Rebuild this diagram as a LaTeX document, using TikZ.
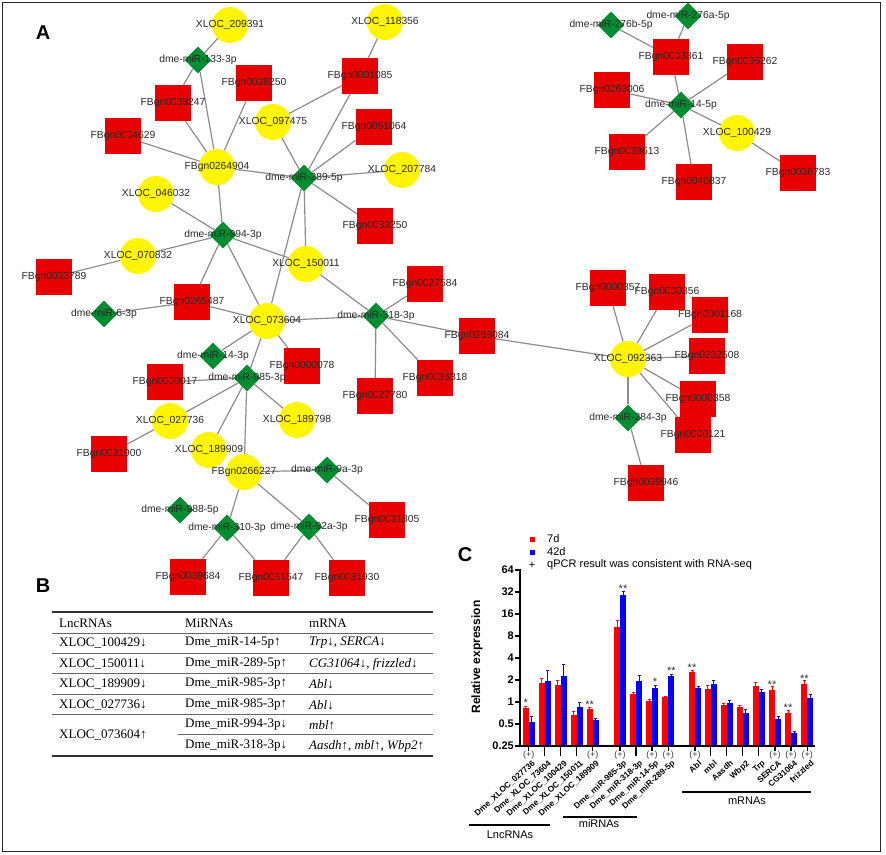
\documentclass[tikz,border=0pt]{standalone}
\usepackage{fontspec}
\setmainfont{Liberation Serif}
\setsansfont{Liberation Sans}
\usetikzlibrary{shapes.geometric,backgrounds}

\definecolor{lncyellow}{RGB}{255,245,0}
\definecolor{mirgreen}{RGB}{0,140,48}
\definecolor{genered}{RGB}{232,0,0}
\definecolor{edgegray}{RGB}{140,140,140}
\definecolor{tagtext}{RGB}{40,40,40}
\definecolor{barred}{RGB}{255,0,0}
\definecolor{barblue}{RGB}{0,0,255}

\tikzset{
  lnc/.style={circle,fill=lncyellow,minimum size=36pt,inner sep=0pt},
  mir/.style={diamond,fill=mirgreen,minimum size=27pt,inner sep=0pt},
  gene/.style={rectangle,fill=genered,minimum size=36pt,inner sep=0pt},
  tag/.style={font=\sffamily\fontsize{10.3}{12}\selectfont,text=tagtext,inner sep=0pt},
  link/.style={draw=edgegray,line width=1.2pt},
  panel/.style={font=\sffamily\bfseries\fontsize{20}{24}\selectfont,inner sep=0pt},
  cell/.style={font=\fontsize{13}{15}\selectfont,anchor=west,inner sep=0pt},
  toprule/.style={line width=1.6pt,draw=black!80},
  midrule/.style={line width=0.8pt,draw=black!60},
  axis/.style={line width=1.5pt,line cap=rect},
  ticklbl/.style={font=\sffamily\bfseries\fontsize{11}{13}\selectfont,anchor=east,inner sep=0pt},
  catlbl/.style={font=\sffamily\bfseries\fontsize{8.3}{10}\selectfont,anchor=north east,rotate=42,inner sep=0.3pt},
  plusmark/.style={font=\sffamily\fontsize{9}{10}\selectfont,text=black!75,inner sep=0pt,fill=white},
  star/.style={font=\sffamily\fontsize{11}{12}\selectfont,text=black!80,inner sep=0pt},
  legtxt/.style={font=\sffamily\fontsize{11}{13}\selectfont,anchor=west,inner sep=0pt},
  grouplbl/.style={font=\sffamily\fontsize{11}{13}\selectfont,inner sep=0pt}
}

% network nodes: key/x/y in pixels
\def\lnclist{209391/230/25, 118356/385/22, 097475/273/122, 207784/402/170,
  046032/156/194, 070832/138/256, 150011/306/264, 073604/267/321,
  189798/297/420, 027736/170/421, 189909/209/450, 100429/737/133, 092363/628/359}
\def\genelist{0038250/254/83, 0001085/360/76, 0038247/173/103, 0051064/374/127,
  0004629/123/136, 0033250/375/226, 0033789/54/277, 0265487/192/302,
  0027584/425/284, 0000078/302/366, 0000017/165/382, 0027780/375/396,
  0036318/435/378, 0031900/109/454, 0031805/387/520, 0039684/188/577,
  0051547/271/578, 0031930/347/578, 0003861/671/57, 0036262/745/62,
  0263006/612/90, 0038613/627/152, 0040837/694/182, 0036783/798/173,
  0266084/477/336, 0000357/608/288, 0000356/667/292, 0001168/710/315,
  0262508/707/356, 0000358/698/399, 0000121/693/435, 0039946/646/483}
\def\mirlist{133-3p/198/60, 289-5p/304/178, 994-3p/223/235, 6-3p/104/314,
  318-3p/376/316, 14-3p/213/356, 985-3p/247/378, 9a-3p/327/470,
  988-5p/180/510, 310-3p/227/528, 92a-3p/309/527, 276b-5p/611/25,
  276a-5p/688/16, 14-5p/681/105, 284-3p/628/418}

\begin{document}
\begin{tikzpicture}[x=1pt,y=-1pt]
\useasboundingbox (0,0) rectangle (886,854);
\draw[line width=1.8pt,draw=black!85] (2.5,2.5) rectangle (880.5,851.5);

% panel letters
\node[panel] (A) at (43,33) {A};
\node[panel] (B) at (43,586) {B};
\node[panel] (C) at (465,555) {C};

%%% A: network
\foreach \k/\x/\y in \lnclist \node[lnc] (x\k) at (\x,\y) {};
\node[lnc] (g0264904) at (217,167) {};
\node[lnc] (g0266227) at (244,472) {};
\foreach \k/\x/\y in \genelist \node[gene] (g\k) at (\x,\y) {};
\foreach \k/\x/\y in \mirlist \node[mir] (m\k) at (\x,\y) {};

% labels over the shapes
\foreach \k/\x/\y in \lnclist \node[tag] (x\k-t) at (x\k) {XLOC\_\k};
\node[tag] (g0264904-t) at (g0264904) {FBgn0264904};
\node[tag] (g0266227-t) at (g0266227) {FBgn0266227};
\foreach \k/\x/\y in \genelist \node[tag] (g\k-t) at (g\k) {FBgn\k};
\foreach \k/\x/\y in \mirlist \node[tag] (m\k-t) at (m\k) {dme-miR-\k};

\begin{scope}[on background layer]
\foreach \a/\b in {x209391/m133-3p, x118356/g0001085, m133-3p/g0038247,
  m133-3p/g0264904, g0038250/g0264904, g0038247/g0264904, g0004629/g0264904,
  g0001085/x097475, g0001085/m289-5p, x097475/m289-5p, g0051064/m289-5p,
  g0264904/m289-5p, x207784/m289-5p, g0033250/m289-5p, g0264904/m994-3p,
  x046032/m994-3p, m289-5p/x073604, m289-5p/x150011, m994-3p/x070832,
  x070832/g0033789, m994-3p/x150011, m994-3p/g0265487, m994-3p/x073604,
  m6-3p/g0265487, g0265487/x073604, x150011/m318-3p, x073604/m318-3p,
  m318-3p/g0027584, m318-3p/g0266084, g0266084/x092363, m318-3p/g0027780,
  m318-3p/g0036318, x073604/m14-3p, x073604/g0000078, x073604/m985-3p,
  m985-3p/g0000017, m985-3p/x027736, m985-3p/x189909, m985-3p/x189798,
  m985-3p/g0266227, x027736/g0031900, g0266227/m9a-3p, m9a-3p/g0031805,
  g0266227/m310-3p, g0266227/m92a-3p, m310-3p/g0039684, m310-3p/g0051547,
  m92a-3p/g0051547, m92a-3p/g0031930, m276b-5p/g0003861, m276a-5p/g0003861,
  g0003861/m14-5p, g0036262/m14-5p, g0263006/m14-5p, m14-5p/x100429,
  m14-5p/g0038613, m14-5p/g0040837, x100429/g0036783, x092363/g0000357,
  x092363/g0000356, x092363/g0001168, x092363/g0262508, x092363/g0000358,
  x092363/g0000121, x092363/m284-3p, m284-3p/g0039946}
  \draw[link] (\a) -- (\b);
\end{scope}

%%% B: table
\draw[toprule] (52,612) -- (433,612);
\draw[midrule] (52,633) -- (433,633);
\draw[midrule] (52,653) -- (433,653);
\draw[midrule] (52,673) -- (433,673);
\draw[midrule] (52,694) -- (433,694);
\draw[midrule] (52,714) -- (433,714);
\draw[midrule] (178,734) -- (433,734);
\draw[toprule] (52,756) -- (433,756);
\node[cell] (h1) at (59,623) {LncRNAs};
\node[cell] (h2) at (185,623) {MiRNAs};
\node[cell] (h3) at (309,623) {mRNA};
\node[cell] (l1) at (59,643) {XLOC\_100429↓};
\node[cell] (i1) at (185,643) {Dme\_miR-14-5p↑};
\node[cell] (r1) at (309,643) {\textit{Trp}↓, \textit{SERCA}↓};
\node[cell] (l2) at (59,664) {XLOC\_150011↓};
\node[cell] (i2) at (185,664) {Dme\_miR-289-5p↑};
\node[cell] (r2) at (309,664) {\textit{CG31064}↓, \textit{frizzled}↓};
\node[cell] (l3) at (59,684) {XLOC\_189909↓};
\node[cell] (i3) at (185,684) {Dme\_miR-985-3p↑};
\node[cell] (r3) at (309,684) {\textit{Abl}↓};
\node[cell] (l4) at (59,705) {XLOC\_027736↓};
\node[cell] (i4) at (185,705) {Dme\_miR-985-3p↑};
\node[cell] (r4) at (309,705) {\textit{Abl}↓};
\node[cell] (l5) at (59,735) {XLOC\_073604↑};
\node[cell] (i5) at (185,725) {Dme\_miR-994-3p↓};
\node[cell] (r5) at (309,725) {\textit{mbl}↑};
\node[cell] (i6) at (185,746) {Dme\_miR-318-3p↓};
\node[cell] (r6) at (309,746) {\textit{Aasdh}↑, \textit{mbl}↑, \textit{Wbp2}↑};

%%% C: bar chart (log2 scale, 22px per doubling)
\fill[barred] (529.5,536.5) rectangle (534.5,541.5);
\node[legtxt] (leg7) at (547,539) {7d};
\fill[barblue] (529.5,549.5) rectangle (534.5,554.5);
\node[legtxt] (leg42) at (547,552) {42d};
\node[legtxt,anchor=center] (legplus) at (532,565) {+};
\node[legtxt] (legq) at (547,565) {qPCR result was consistent with RNA-seq};

\node[font=\sffamily\bfseries\fontsize{12}{14}\selectfont,rotate=90] (ylab) at (477,657) {Relative expression};
\foreach \v [count=\i from 0] in {0.25,0.5,1,2,4,8,16,32,64} {
  \draw[axis] (516,746-22*\i) -- (520,746-22*\i);
  \node[ticklbl] (yt\i) at (514,746-22*\i) {\v};
}

\foreach \c/\r/\re/\b/\be in {528.7/708.3/706/721.7/716, 544.7/683.3/678.7/681/670,
  560.7/684.7/680.3/676/664, 576.7/715.3/711.7/706.7/702, 592.7/709.3/707/720/718,
  620/626.7/620/594.7/591, 636/694.3/692.7/680.7/675.3, 652/701/699.3/688.3/685,
  668.3/697/696/675.7/674.3, 695/671.7/670/688/686.5, 710.7/688.7/685/684.3/680,
  726.7/704.7/703.3/702.7/700, 742.7/707/705.7/712.7/709.3, 758.7/686/682.7/692/689.3,
  775/690.3/686.7/719.3/716, 791/712.7/710.7/733.3/731.7, 807.3/684/680.7/698/694.7} {
  \fill[barred] (\c-6,746) rectangle (\c,\r);
  \draw[barred,line width=0.8pt] (\c-3,\r) -- (\c-3,\re) (\c-4.5,\re) -- (\c-1.5,\re);
  \fill[barblue] (\c,746) rectangle (\c+6,\b);
  \draw[barblue,line width=0.8pt] (\c+3,\b) -- (\c+3,\be) (\c+1.5,\be) -- (\c+4.5,\be);
  \draw[line width=1.2pt] (\c,746) -- (\c,756);
}
\draw[axis] (520,570) -- (520,746) -- (814,746);

\foreach \x/\y/\s [count=\i] in {525.7/703/*, 589.7/705/**, 623/589/**, 655/682/*,
  671.3/671/**, 692/668/**, 772/685/**, 788/708/**, 804.3/679/**}
  \node[star] (st\i) at (\x,\y) {\s};

\foreach \c [count=\i] in {528.7,592.7,620,652,668.3,695,775,791,807.3}
  \node[plusmark] (pl\i) at (\c,755) {(+)};

\foreach \c/\t [count=\i] in {528.7/Dme\_XLOC\_027736, 544.7/Dme\_XLOC\_73604,
  560.7/Dme\_XLOC\_100429, 576.7/Dme\_XLOC\_150011, 592.7/Dme\_XLOC\_189909,
  620/Dme\_miR-985-3p, 636/Dme\_miR-318-3p, 652/Dme\_miR-14-5p, 668.3/Dme\_miR-289-5p,
  695/Abl, 710.7/mbl, 726.7/Aasdh, 742.7/Wbp2, 758.7/Trp, 775/SERCA,
  791/CG31064, 807.3/frizzled}
  \node[catlbl] (cat\i) at (\c+3,759) {\t};

\draw[line width=1.2pt] (469,825) -- (550,825);
\node[grouplbl] (g-lnc) at (510,835) {LncRNAs};
\draw[line width=1.2pt] (563,817) -- (637,817);
\node[grouplbl] (g-mir) at (599,824) {miRNAs};
\draw[line width=1.2pt] (682,792) -- (811,792);
\node[grouplbl] (g-mrna) at (747,801) {mRNAs};
\end{tikzpicture}
\end{document}
